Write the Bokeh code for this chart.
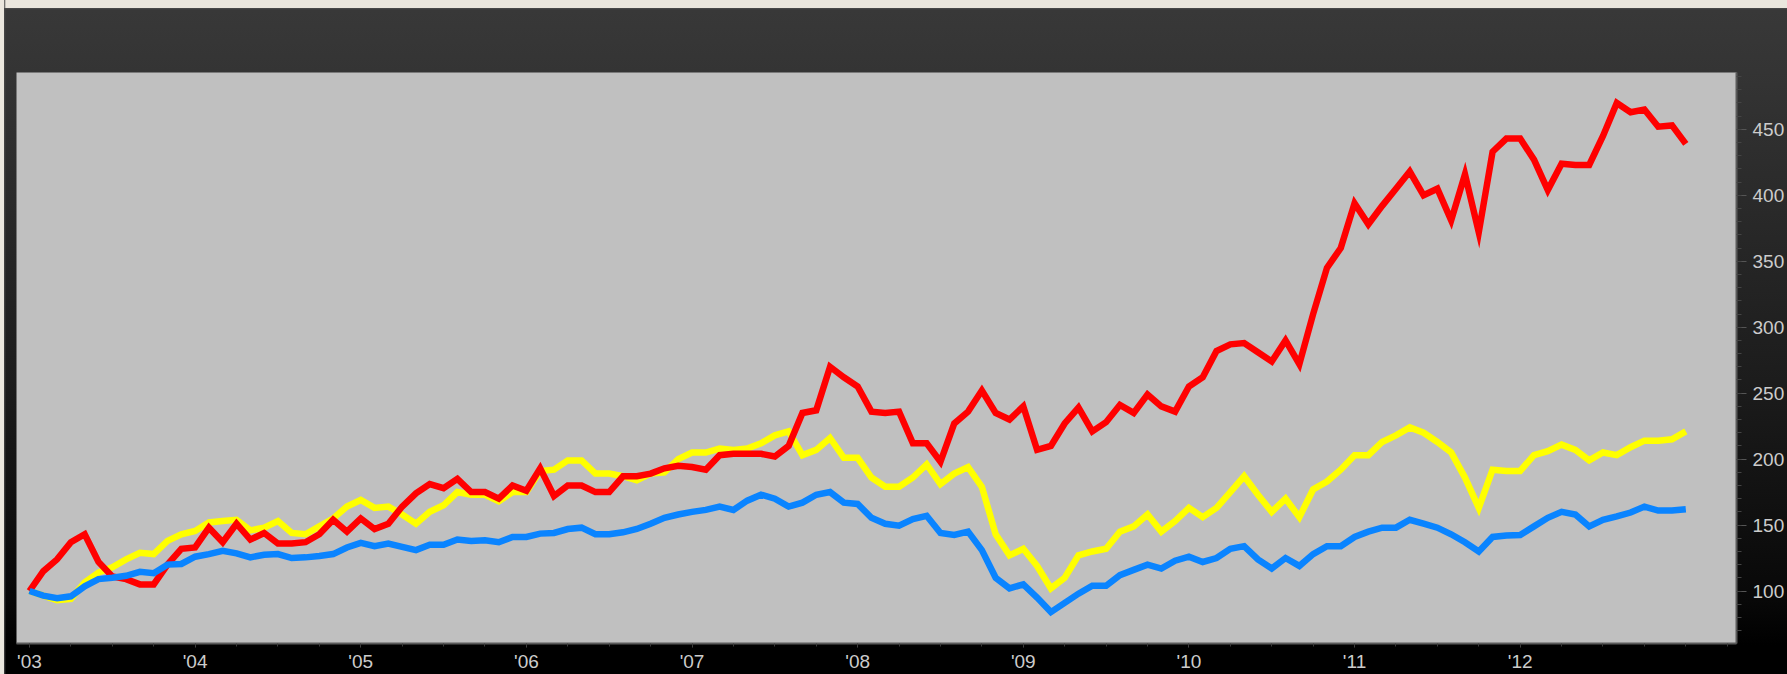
from bokeh.plotting import figure
from bokeh.models import FixedTicker, Range1d
from bokeh.embed import file_html
from bokeh.resources import INLINE

# ---- data: monthly index values, Jan 2003 .. Jan 2013 ----
start_year = 2003
red = [100, 115, 124, 137, 143, 122, 111, 109, 105, 105, 120, 132,
       133, 148, 137, 151, 139, 144, 136, 136, 137, 143, 154, 145,
       155, 147, 151, 164, 174, 181, 178, 185, 175, 175, 170, 180,
       176, 193, 172, 180, 180, 175, 175, 187, 187, 189, 193, 195,
       194, 192, 203, 204, 204, 204, 202, 210, 235, 237, 270, 262,
       255, 236, 235, 236, 212, 212, 198, 227, 236, 252, 235, 230,
       240, 207, 210, 227, 239, 221, 228, 241, 235, 249, 240, 236,
       255, 262, 282, 287, 288, 281, 274, 290, 272, 310, 345, 360,
       394, 378, 392, 405, 418, 400, 405, 381, 416, 372, 433, 443,
       443, 427, 404, 424, 423, 423, 445, 470, 463, 465, 452, 453,
       439]
yellow = [100, 96.5, 93, 94, 106.5, 114, 118, 124, 129, 128, 138, 143,
          145.5, 152, 153, 154, 146, 148, 153, 144, 143, 149, 155, 164,
          169, 163, 164, 158, 151, 160, 165, 175, 173, 173, 168, 175,
          175, 191, 192, 199, 199, 189, 189, 187, 184, 189, 190, 200,
          205, 205, 208, 207, 208, 212, 218, 221, 203, 207, 216, 201,
          201, 186, 179, 179, 186, 196, 181, 189, 194, 179, 143, 127,
          132, 119, 102, 110, 127, 130, 132, 145, 149, 158, 145, 153,
          163, 156, 163, 175, 187, 173, 160, 170, 156, 177, 183, 192,
          203, 203, 213, 218, 224, 220, 213, 205, 186, 163, 192, 191,
          191, 203, 206, 211, 207, 199, 205, 203, 209, 214, 214, 215,
          221]
blue = [100, 96.5, 94.5, 96, 103.5, 109, 110, 111.5, 114.5, 113.5, 120, 120.5,
        126, 128, 130.5, 128.5, 125.5, 127.5, 128, 125, 125.5, 126.5, 128, 133,
        136.5, 134, 136, 133.5, 131, 135, 135, 139, 138, 138.5, 137, 141,
        141, 143.5, 144, 147, 148, 143, 143, 144.5, 147, 151, 155.5, 158,
        160, 161.5, 164, 161.5, 168.5, 173, 170, 164, 167, 173, 175, 167,
        166, 155.5, 151, 149.5, 154.5, 157, 144, 142.5, 145, 131, 110, 102,
        105, 95, 84, 91, 98, 104, 104, 112, 116, 120, 117, 123,
        126, 122, 125, 132, 134, 124, 117, 125, 119, 128, 134, 134,
        141, 145, 148, 148, 154, 151, 148, 143, 137, 130, 141, 142,
        142.5, 149, 155.5, 160, 158, 149, 154, 156.5, 159.5, 164, 161, 161,
        162]
year_ticks = [2003, 2004, 2005, 2006, 2007, 2008, 2009, 2010, 2011, 2012]
year_labels = ["'03", "'04", "'05", "'06", "'07", "'08", "'09", "'10", "'11", "'12"]
value_ticks = [100, 150, 200, 250, 300, 350, 400, 450]

months = [start_year + i / 12 for i in range(len(red))]

W, H = 1787, 674
bg = ("linear-gradient(to right, #ebe7de 0px, #ebe7de 4px, #4a4a4a 4px, transparent 6px), "
      "linear-gradient(to bottom, #ebe7de 0px, #ebe7de 8px, #4e4e4e 8px, #383838 10px, "
      "#343434 72px, #1c1c1c 380px, #080808 600px, #000000 645px, #000000 674px)")

p = figure(width=W, height=H, output_backend="svg", toolbar_location=None,
           y_axis_location="right",
           x_range=Range1d(2002.9216, 2013.306), y_range=Range1d(60.2, 493.1),
           min_border_left=16, min_border_top=72, min_border_right=50, min_border_bottom=29,
           styles={"position": "absolute", "left": "0px", "top": "0px", "background": bg})
p.background_fill_color = "#c0c0c0"
p.border_fill_color = None
p.outline_line_color = None
p.grid.visible = False

font = "Liberation Sans"
xa = p.xaxis[0]
xa.ticker = FixedTicker(ticks=year_ticks,
                        minor_ticks=[y + q / 4 for y in range(2002, 2014) for q in range(4)])
xa.major_label_overrides = {t: l for t, l in zip(year_ticks, year_labels)}
xa.axis_line_color = "#5a5a5a"
xa.axis_line_width = 2
xa.major_tick_line_color = "#4a4a4a"
xa.minor_tick_line_color = "#3a3a3a"
xa.major_tick_in = 0
xa.major_tick_out = 4
xa.minor_tick_in = 0
xa.minor_tick_out = 3
xa.major_label_text_color = "#cccccc"
xa.major_label_text_font = font
xa.major_label_text_font_size = "19px"
xa.major_label_standoff = 3

ya = p.yaxis[0]
ya.ticker = FixedTicker(ticks=value_ticks, minor_ticks=list(range(60, 500, 10)))
ya.axis_line_color = "#5a5a5a"
ya.axis_line_width = 2
ya.major_tick_line_color = "#555555"
ya.minor_tick_line_color = "#444444"
ya.major_tick_in = 0
ya.major_tick_out = 10
ya.minor_tick_in = 0
ya.minor_tick_out = 5
ya.major_label_text_color = "#cccccc"
ya.major_label_text_font = font
ya.major_label_text_font_size = "19px"
ya.major_label_standoff = 6

for series, color in ((yellow, "#ffff00"), (red, "#ff0000"), (blue, "#0a84ff")):
    p.line(months, series, line_color=color, line_width=6.5, line_join="miter")

open("out.html", "w").write(file_html(p, INLINE))
